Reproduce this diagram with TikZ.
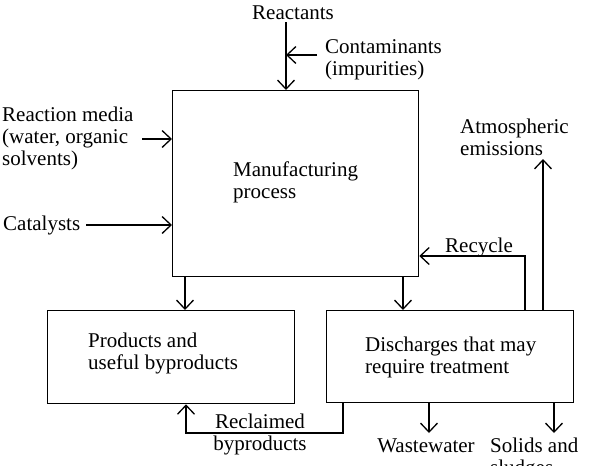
\documentclass[tikz,border=0pt]{standalone}
\usepackage{fontspec}
\setmainfont{Liberation Serif}
\usetikzlibrary{arrows.meta}
\begin{document}
\begin{tikzpicture}[x=1pt,y=-1pt,
  lbl/.style={inner sep=0pt, font=\fontsize{21}{22}\selectfont, align=left},
  box/.style={draw, line width=1.3pt, inner sep=0pt, anchor=north west},
  arr/.style={line width=1.3pt, -{Straight Barb[length=9pt,width=17pt]}},
  ln/.style={line width=1.3pt}]
\useasboundingbox (0,0) rectangle (590,466);
\clip (0,0) rectangle (590,466);
% boxes
\node[box, minimum width=246pt, minimum height=186pt] (mfg) at (172,90) {};
\node[box, minimum width=247pt, minimum height=93pt] (prod) at (47,310) {};
\node[box, minimum width=247pt, minimum height=92pt] (dis) at (326,310) {};
% texts (multi-line nodes: base anchor = last line)
\node[lbl, anchor=base] (reac) at (293,19) {Reactants};
\node[lbl, anchor=base west] (cont) at (325,75) {Contaminants\\(impurities)};
\node[lbl, anchor=base west] (media) at (2,165) {Reaction media\\(water, organic\\solvents)};
\node[lbl, anchor=base west] (cat) at (3,230) {Catalysts};
\node[lbl, anchor=base west] (mfgt) at (233,198) {Manufacturing\\process};
\node[lbl, anchor=base west] (prodt) at (88,369) {Products and\\useful byproducts};
\node[lbl, anchor=base west] (dist) at (365,373) {Discharges that may\\require treatment};
\node[lbl, anchor=base west] (rect) at (445,252) {Recycle};
\node[lbl, anchor=base west] (atmt) at (460,155) {Atmospheric\\emissions};
\node[lbl, anchor=base, align=center] (reclt) at (260,450) {Reclaimed\\byproducts};
\node[lbl, anchor=base] (wwt) at (426,452) {Wastewater};
\node[lbl, anchor=base west] (solt) at (490,474) {Solids and\\sludges};
% coordinates
\coordinate (rtop) at (286,22);
\coordinate (ct) at (317,55);
\coordinate (rm) at (142,139);
\coordinate (ca) at (86,225);
\coordinate (p1) at (185,0);
\coordinate (d1) at (403,0);
\coordinate (rc) at (525,256);
\coordinate (atm) at (543,159);
\coordinate (rcs) at (343,433);
\coordinate (rb) at (186,433);
\coordinate (ww) at (429,433);
\coordinate (sl) at (554,433);
% connectors
\draw[arr] (rtop) -- (rtop |- mfg.north);
\draw[arr] (ct) -- (ct -| rtop);
\draw[arr] (rm) -- (rm -| mfg.west);
\draw[arr] (ca) -- (ca -| mfg.west);
\draw[arr] (p1 |- mfg.south) -- (p1 |- prod.north);
\draw[arr] (d1 |- mfg.south) -- (d1 |- dis.north);
\draw[arr] (rc |- dis.north) -- (rc) -- (rc -| mfg.east);
\draw[arr] (atm |- dis.north) -- (atm);
\draw[arr] (rcs |- dis.south) -- (rcs) -- (rb) -- (rb |- prod.south);
\draw[arr] (ww |- dis.south) -- (ww);
\draw[arr] (sl |- dis.south) -- (sl);
\end{tikzpicture}
\end{document}
